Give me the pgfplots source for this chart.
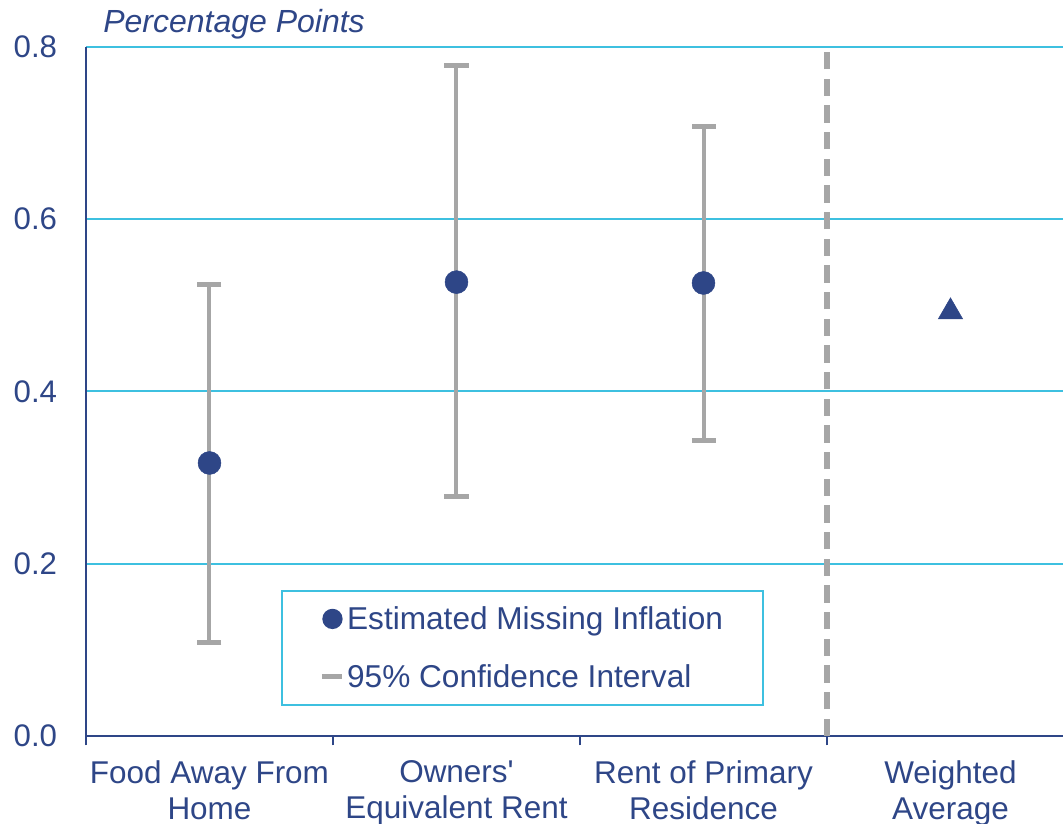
\documentclass[border=0pt]{standalone}
\usepackage{pgfplots}
\pgfplotsset{compat=1.18}
\usepackage{fontspec}
\setmainfont{Liberation Sans}
\definecolor{navy}{RGB}{46,70,135}
\definecolor{cyanl}{RGB}{62,192,224}
\definecolor{grayb}{RGB}{166,166,166}
\begin{document}
\begin{tikzpicture}
\begin{axis}[
  scale only axis,
  width=732.75pt, height=516.75pt,
  xmin=-0.5, xmax=3.4555,
  ymin=0, ymax=0.8,
  axis lines=left,
  axis line style={navy, line width=1.5pt, -},
  xtick={-0.5,0.5,1.5,2.5},
  xticklabels={},
  xtick align=outside,
  major tick length=7pt,
  x tick style={navy, line width=1.5pt},
  extra x ticks={0,1,2,3},
  extra x tick labels={{Food Away From\\Home},{Owners\textquotesingle\\Equivalent Rent},{Rent of Primary\\Residence},{Weighted\\Average}},
  extra x tick style={major tick length=0pt, tick style={draw=none},
     ticklabel style={align=center, anchor=north, inner sep=0pt, yshift=-18pt, text=navy, font=\fontsize{23.6}{27}\selectfont}},
  ytick={0,0.2,0.4,0.6,0.8},
  y tick style={draw=none},
  ymajorgrids,
  grid style={cyanl, line width=1.5pt},
  yticklabel style={anchor=east, inner sep=0pt, xshift=-18pt, text=navy, font=\fontsize{23.4}{27}\selectfont,
    /pgf/number format/.cd, fixed, fixed zerofill, precision=1, assume math mode=true},
  clip=false,
  legend style={at={(rel axis cs:0.1996,0.2119)}, anchor=north west, draw=cyanl, line width=1.2pt,
    inner xsep=28pt, inner ysep=9.75pt, row sep=20.75pt,
    font=\fontsize{23.7}{27}\selectfont, text=navy},
  legend cell align=left,
]
% divider
\addplot[forget plot, grayb, line width=4pt, dash pattern=on 13pt off 7pt] coordinates {(2.5,0) (2.5,0.8)};
% confidence intervals
\addplot[forget plot, only marks, mark=none, draw=none,
  error bars/.cd, y dir=both, y explicit, error mark=none,
  error bar style={grayb, line width=3pt}]
  coordinates {
  (0,0.317) += (0,0.207) -= (0,0.208)
  (1,0.527) += (0,0.251) -= (0,0.249)
  (2,0.526) += (0,0.182) -= (0,0.183)
  };
\addplot[forget plot, only marks, mark=-, mark size=9pt, grayb, mark options={line width=3.75pt}]
  coordinates {(0,0.524) (0,0.109) (1,0.778) (1,0.278) (2,0.708) (2,0.343)};
% estimates
\addplot[forget plot, only marks, mark=*, mark size=8.6pt, navy, mark options={fill=navy, draw=navy}]
  coordinates {(0,0.317) (1,0.527) (2,0.526)};
\addplot[forget plot, only marks, mark=triangle*, mark size=10.5pt, navy, mark options={fill=navy, draw=navy}]
  coordinates {(3,0.4925)};
\addlegendimage{legend image code/.code={\fill[navy] (8pt,0pt) circle (7pt);}}
\addlegendentry{Estimated Missing Inflation}
\addlegendimage{legend image code/.code={\draw[grayb, line width=4pt] (0pt,0pt) -- (15pt,0pt);}}
\addlegendentry{95\% Confidence Interval}
\end{axis}
\node[anchor=base west, text=navy, font=\fontsize{24}{27}\selectfont\itshape, inner sep=0pt] at (12.75pt,527.25pt) {Percentage Points};
\pgfresetboundingbox
\path (-64.5pt,-66pt) rectangle (732.75pt,552pt);
\end{tikzpicture}
\end{document}
